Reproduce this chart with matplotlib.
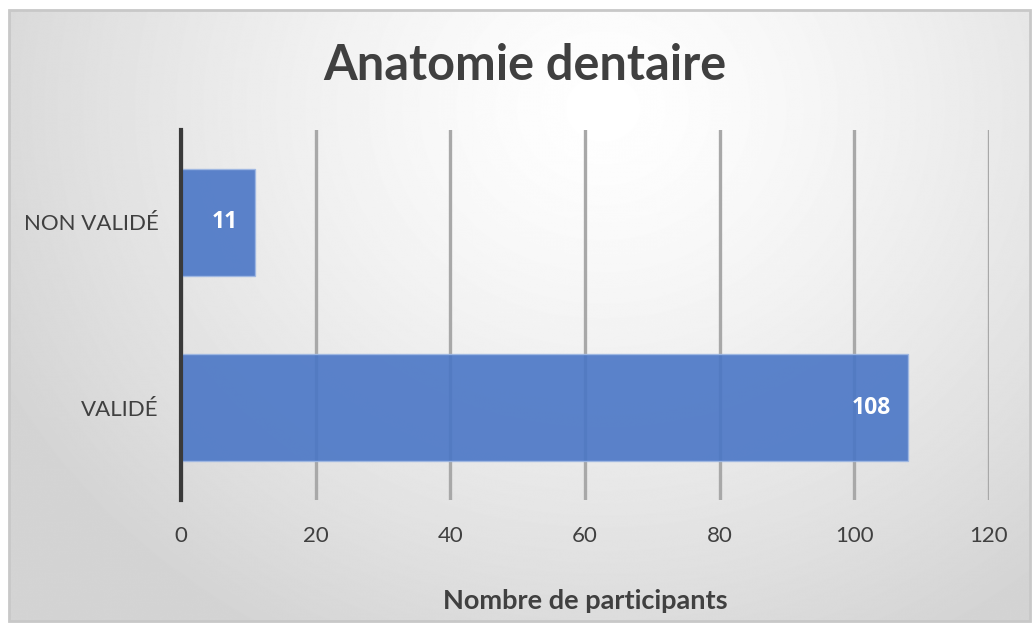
import numpy as np
import matplotlib.pyplot as plt
from matplotlib.patches import Rectangle

# données
categories = ['VALIDÉ', 'NON VALIDÉ']
participants = [108, 11]
x_ticks = [0, 20, 40, 60, 80, 100, 120]

FONT = 'Lato'
W, H = 1032, 623
fig = plt.figure(figsize=(W / 100, H / 100), dpi=100)

# fond: dégradé radial blanc -> gris, dans un cadre
bg = fig.add_axes([0, 0, 1, 1], zorder=-10)
bg.set_xlim(0, W)
bg.set_ylim(H, 0)
bg.axis('off')
yy, xx = np.mgrid[0:H, 0:W]
r = np.sqrt(((xx - 600) / 620) ** 2 + ((yy - 100) / 560) ** 2)
grad = np.clip(1.0 - 0.15 * r ** 1.3, 0.83, 1.0)
bg.imshow(grad, cmap='gray', vmin=0, vmax=1, extent=[9, W - 2, H - 2, 10],
          interpolation='bilinear', aspect='auto')
bg.add_patch(Rectangle((9, 10), W - 11, H - 12, fill=False,
                       edgecolor='#c8c8c8', linewidth=2))

ax = fig.add_axes([181 / W, 1 - 500 / H, (989 - 181) / W, (500 - 130) / H])
ax.patch.set_alpha(0)

y = np.arange(len(categories))
bars = ax.barh(y, participants, height=0.58, color='#4a76c6', alpha=0.9,
               edgecolor='#9fb8e3', linewidth=1, zorder=3)

# étiquettes de valeur à l'intérieur, côté droit
for b, v in zip(bars, participants):
    ax.text(b.get_width() - 2.6, b.get_y() + b.get_height() / 2, str(v),
            ha='right', va='center', color='white', fontsize=16.5,
            fontweight='bold', family='Open Sans', zorder=4)

ax.set_xlim(0, 120)
ax.set_ylim(-0.5, 1.5)
ax.set_xticks(x_ticks)
ax.set_yticks(y)
ax.set_yticklabels(categories)
ax.xaxis.grid(True, color='#a8a8a8', linewidth=2.4, zorder=1)
ax.set_axisbelow(True)

for s in ['top', 'right', 'bottom']:
    ax.spines[s].set_visible(False)
ax.spines['left'].set_color('#3a3a3a')
ax.spines['left'].set_linewidth(3)
ax.spines['left'].set_zorder(5)

ax.tick_params(length=0, labelsize=16, labelcolor='#404040')
ax.tick_params(axis='x', pad=19)
ax.tick_params(axis='y', pad=16)
for lab in ax.get_xticklabels() + ax.get_yticklabels():
    lab.set_family(FONT)

ax.set_xlabel('Nombre de participants', fontsize=19.5, fontweight='bold',
              color='#404040', family=FONT, labelpad=31)

fig.text(525 / W, 1 - 66 / H, 'Anatomie dentaire', ha='center', va='center',
         fontsize=35, fontweight='bold', color='#404040', family=FONT)

fig.savefig('out.png', dpi=100)
